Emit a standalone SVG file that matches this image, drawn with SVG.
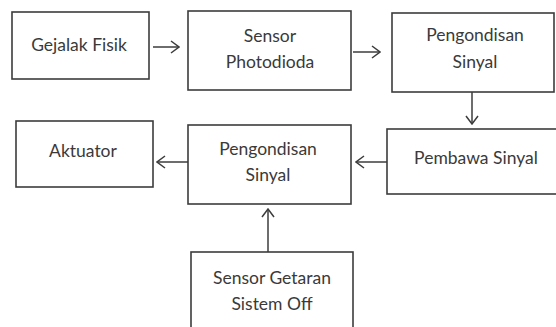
<svg xmlns="http://www.w3.org/2000/svg" width="556" height="327" viewBox="0 0 556 327">
<defs>
<style>
.box{fill:#ffffff;stroke:#3c3c3c;stroke-width:1.6}
.t{font-family:Lato,"Open Sans","Liberation Sans",sans-serif;font-size:17.5px;fill:#3a3a3a;text-anchor:middle}
.c{fill:none;stroke:#3c3c3c;stroke-width:1.5}
</style>
<marker id="ah" viewBox="0 0 10 14" refX="9" refY="7" markerWidth="10" markerHeight="14" markerUnits="userSpaceOnUse" orient="auto">
<path d="M1,1 L9,7 L1,13" fill="none" stroke="#3c3c3c" stroke-width="1.5"/>
</marker>
</defs>
<rect width="556" height="327" fill="#ffffff"/>
<g id="gejala">
<rect class="box" x="12" y="12" width="137" height="67"/>
<text class="t" x="79" y="51">Gejalak Fisik</text>
</g>
<g id="sensor-photodioda">
<rect class="box" x="188" y="11" width="163" height="79"/>
<text class="t" x="270" y="42">Sensor</text>
<text class="t" x="270" y="68">Photodioda</text>
</g>
<g id="pengondisan1">
<rect class="box" x="392" y="13" width="162" height="79"/>
<text class="t" x="475" y="41">Pengondisan</text>
<text class="t" x="475" y="68">Sinyal</text>
</g>
<g id="pembawa">
<rect class="box" x="387" y="129" width="172" height="65"/>
<text class="t" x="476" y="164">Pembawa Sinyal</text>
</g>
<g id="pengondisan2">
<rect class="box" x="188" y="125" width="163" height="79"/>
<text class="t" x="268" y="155">Pengondisan</text>
<text class="t" x="268" y="181">Sinyal</text>
</g>
<g id="aktuator">
<rect class="box" x="16" y="121" width="137" height="66"/>
<text class="t" x="83" y="157">Aktuator</text>
</g>
<g id="sensor-getaran">
<rect class="box" x="191" y="252" width="162" height="80"/>
<text class="t" x="272" y="284">Sensor Getaran</text>
<text class="t" x="272" y="310">Sistem Off</text>
</g>
<g id="connectors">
<line class="c" x1="153" y1="47" x2="179" y2="47" marker-end="url(#ah)"/>
<line class="c" x1="353" y1="52" x2="380" y2="52" marker-end="url(#ah)"/>
<line class="c" x1="472" y1="92" x2="472" y2="124" marker-end="url(#ah)"/>
<line class="c" x1="387" y1="162" x2="356" y2="162" marker-end="url(#ah)"/>
<line class="c" x1="188" y1="162" x2="157" y2="162" marker-end="url(#ah)"/>
<line class="c" x1="268" y1="252" x2="268" y2="209" marker-end="url(#ah)"/>
</g>
</svg>
